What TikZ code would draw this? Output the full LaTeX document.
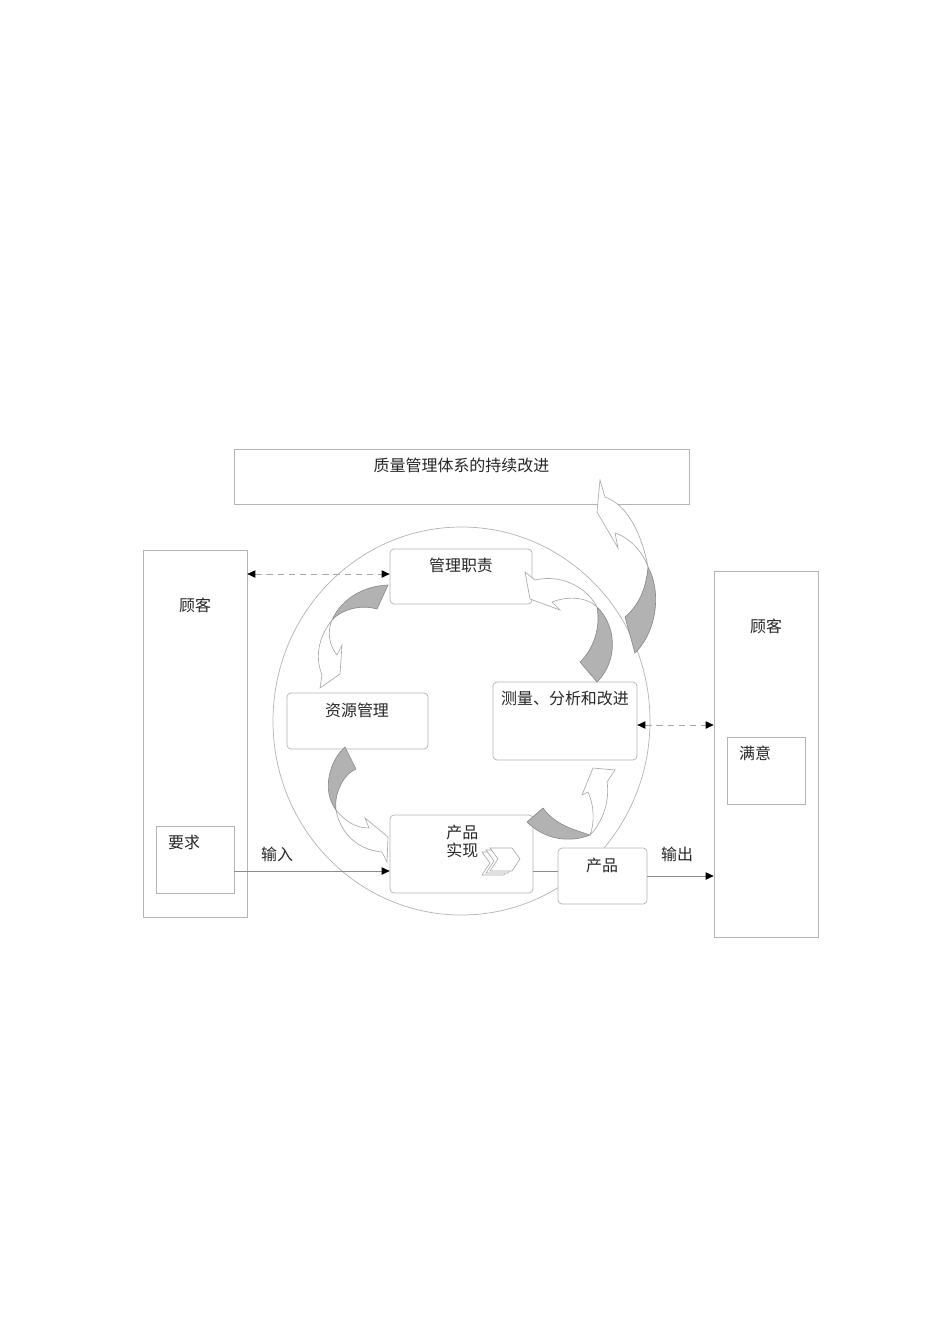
\documentclass[tikz,border=0pt]{standalone}
\usepackage{fontspec}
\newfontfamily\cjk{Noto Sans CJK SC}
\usetikzlibrary{arrows.meta,shapes.geometric}
\definecolor{boxgray}{HTML}{B4B4B4}
\definecolor{linegray}{HTML}{8C8C8C}
\definecolor{arrgray}{HTML}{A8A8A8}
\definecolor{shade}{HTML}{B2B2B2}
\definecolor{shadeline}{HTML}{8A8A8A}
\begin{document}
\begin{tikzpicture}[x=0.6266pt,y=-0.6266pt,
  sz/.style 2 args={minimum width=#1*0.6266pt, minimum height=#2*0.6266pt, inner sep=0pt},
  box/.style={draw=boxgray, line width=0.45pt, fill=white, rectangle},
  rbox/.style={box, rounded corners=2.5pt},
  lbl/.style={font=\cjk\fontsize{10}{11.5}\selectfont, text=black!85, inner sep=0pt},
  conn/.style={draw=linegray, line width=0.45pt},
  headtip/.style={-{Triangle[length=5pt,width=4.6pt,color=black]}},
  dashconn/.style={draw=arrgray, line width=0.45pt, dash pattern=on 4pt off 3pt, {Triangle[length=5pt,width=4.6pt,color=black]}-{Triangle[length=5pt,width=4.6pt,color=black]}},
  whitearrow/.style={draw=arrgray, fill=white, line width=0.4pt, line join=miter},
  grayarrow/.style={draw=shadeline, fill=shade, line width=0.4pt},
  chev/.style={draw=arrgray, fill=white, line width=0.4pt}
]
\useasboundingbox (0,0) rectangle (950,1344);

% ring
\node[draw=boxgray, line width=0.45pt, ellipse, sz={377}{388}] (ring) at (461.5,721) {};

% boxes
\node[box, sz={455}{55}] (top) at (461.5,476.5) {};
\node[box, sz={104}{367}] (lcust) at (195,733.5) {};
\node[box, sz={78}{67}] (req) at (195,859.5) {};
\node[box, sz={104}{366}] (rcust) at (766,754) {};
\node[box, sz={78}{67}] (sat) at (766,770.5) {};
\node[rbox, sz={142}{55}] (mgmt) at (461,576.5) {};
\node[rbox, sz={141}{56}] (res) at (357.5,721) {};
\node[rbox, sz={144}{78}] (meas) at (565,721) {};
\node[rbox, sz={143}{78}] (real) at (461.5,854) {};
\node[rbox, sz={89}{56}] (prod) at (602.5,876) {};

% rows for connectors
\coordinate (inrow) at (0,871);
\coordinate (dashrow) at (0,574);
\coordinate (dashrowb) at (0,725);

% connectors
\draw[conn, headtip] (req.east |- inrow) -- (real.west |- inrow);
\draw[conn] (real.east |- inrow) -- (prod.west |- inrow);
\draw[conn, headtip] (prod.east) -- (rcust.west |- prod.east);
\draw[dashconn] (lcust.east |- dashrow) -- (mgmt.west |- dashrow);
\draw[dashconn] (meas.east |- dashrowb) -- (rcust.west |- dashrowb);

% curved arrow A: mgmt -> res
\draw[grayarrow] (388,585) .. controls (362,586) and (341,600) .. (332,620)
  .. controls (341,610) and (360,604) .. (377,609) -- cycle;
\draw[whitearrow] (332,620) .. controls (320,635) and (314,655) .. (322,675)
  -- (320,688) -- (340,674) -- (342,645) -- (337,655)
  .. controls (329,645) and (327,632) .. (332,620) -- cycle;

% curved arrow B: meas -> mgmt
\draw[grayarrow] (597,607) .. controls (616,625) and (619,660) .. (597,682)
  -- (580,662) .. controls (593,650) and (601,628) .. (597,607) -- cycle;
\draw[whitearrow] (597,607) .. controls (586,586) and (560,574) .. (535,580)
  -- (525,572) -- (530,599) -- (560,610) -- (552,602)
  .. controls (570,595) and (588,598) .. (597,607) -- cycle;

% curved arrow C: res -> real
\draw[grayarrow] (345,747) .. controls (330,760) and (321,790) .. (336,810)
  .. controls (334,795) and (342,775) .. (356,769) -- cycle;
\draw[whitearrow] (336,810) .. controls (346,822) and (356,828) .. (369,828)
  -- (365,818) -- (388,837) -- (387,862) -- (382,852)
  .. controls (360,850) and (341,836) .. (336,810) -- cycle;

% curved arrow D: real -> meas
\draw[grayarrow] (527,822) .. controls (545,840) and (570,843) .. (590,835)
  .. controls (575,830) and (555,825) .. (543,808) -- cycle;
\draw[whitearrow] (590,835) .. controls (603,822) and (610,800) .. (607,782)
  -- (615,770) -- (593,768) -- (582,795) -- (588,792)
  .. controls (594,805) and (595,822) .. (590,835) -- cycle;

% curved arrow E: meas -> top
\draw[grayarrow] (648,567) .. controls (661,590) and (658,630) .. (635,653)
  -- (625,617) .. controls (638,606) and (646,590) .. (648,567) -- cycle;
\draw[whitearrow] (648,567) .. controls (642,535) and (628,505) .. (605,497)
  -- (600,480) -- (597,512) -- (618,548) -- (615,533)
  .. controls (630,538) and (643,552) .. (648,567) -- cycle;

% chevrons in product realisation
\foreach \dx/\dy in {-8/4,-4/2,0/0}{
  \draw[chev, shift={(\dx,\dy)}] (490,848) -- (512,848) -- (520,859) -- (512,871)
    -- (490,871) -- (498,859) -- cycle;
}

% texts
\node[lbl] (ttop) at (461.5,465) {质量管理体系的持续改进};
\node[lbl] (tlc) at (195,605) {顾客};
\node[lbl] (treq) at (184,842) {要求};
\node[lbl] (trc) at (766,626) {顾客};
\node[lbl] (tsat) at (755,753) {满意};
\node[lbl] (tmgmt) at (461,565) {管理职责};
\node[lbl] (tres) at (357,710) {资源管理};
\node[lbl] (tmeas) at (565,698) {测量、分析和改进};
\node[lbl, anchor=west] (treal1) at (446,832) {产品};
\node[lbl, anchor=west] (treal2) at (446,850) {实现};
\node[lbl] (tprod) at (602,865) {产品};
\node[lbl] (tin) at (277,854) {输入};
\node[lbl] (tout) at (677,854) {输出};
\end{tikzpicture}
\end{document}
